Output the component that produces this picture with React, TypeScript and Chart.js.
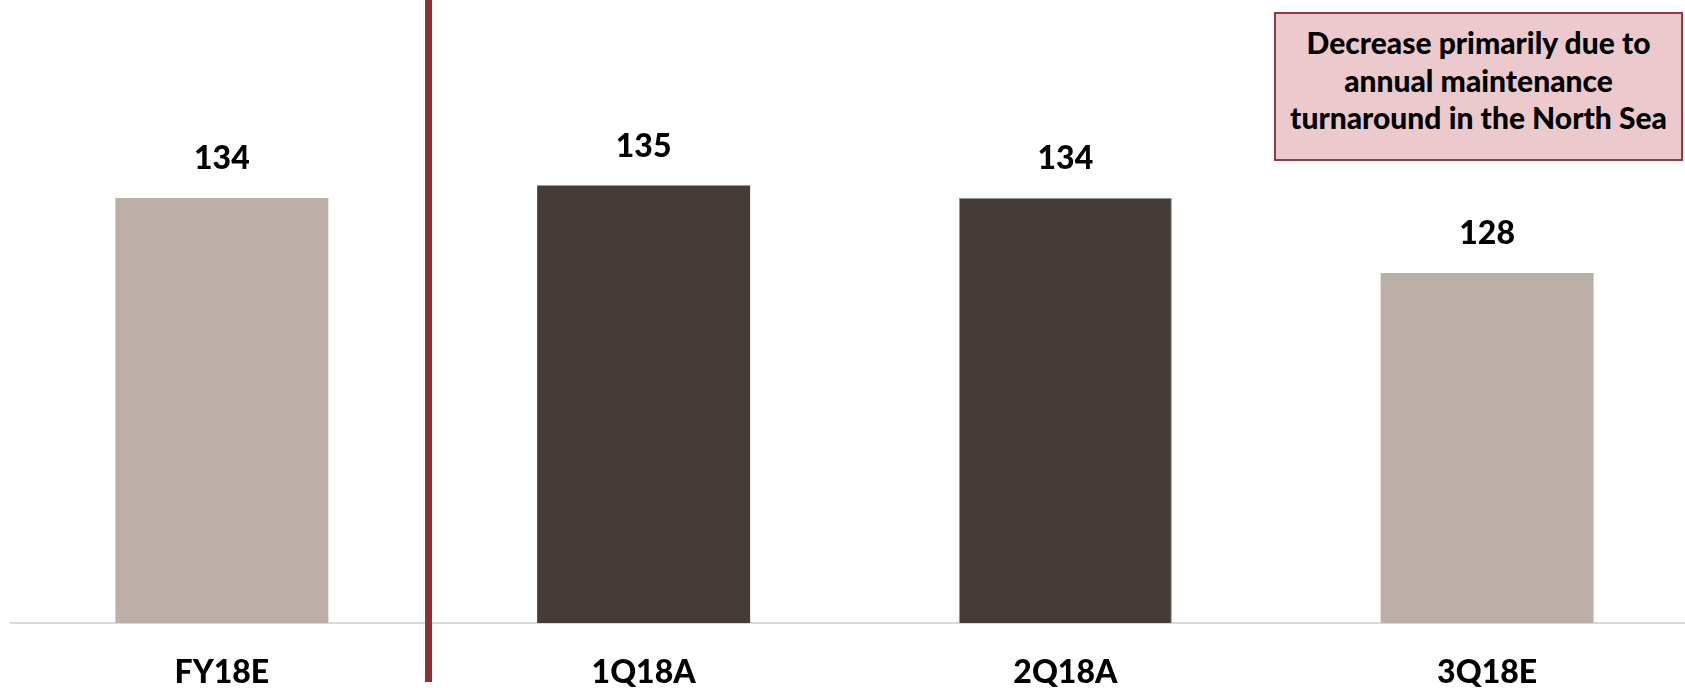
import React, { useEffect, useRef } from "react";
import { Chart, registerables } from "chart.js";

Chart.register(...registerables);

// ---- data ----
const categories = ["FY18E", "1Q18A", "2Q18A", "3Q18E"];
const values = [134, 135, 134, 128];
const valueLabels = ["134", "135", "134", "128"];
const barColors = ["#bcafa7", "#463c37", "#463c37", "#bcafa7"];
const barBorderColors = ["#bcafa7", "#463c37", "#8c9c8a", "#bcafa7"];
const barBorderWidths = [0, 0, 1, 0];
const annotationLines = [
  "Decrease primarily due to",
  "annual maintenance",
  "turnaround in the North Sea",
];
const Y_MIN = 100;
const Y_MAX = 150;
const DIVIDER_AT = 0.49; // between FY18E and 1Q18A

const FONT = "Lato, 'Open Sans', sans-serif";

export default function App() {
  const canvasRef = useRef<HTMLCanvasElement | null>(null);

  useEffect(() => {
    const canvas = canvasRef.current;
    if (!canvas) return;

    const valueLabelPlugin = {
      id: "valueLabels",
      afterDatasetsDraw(chart: any) {
        const ctx = chart.ctx;
        const meta = chart.getDatasetMeta(0);
        ctx.save();
        ctx.font = `900 32px ${FONT}`;
        ctx.fillStyle = "#000000";
        ctx.textAlign = "center";
        ctx.textBaseline = "middle";
        meta.data.forEach((bar: any, i: number) => {
          ctx.fillText(valueLabels[i], bar.x, bar.y - 39);
        });
        ctx.restore();
      },
    };

    const dividerPlugin = {
      id: "divider",
      afterDraw(chart: any) {
        const ctx = chart.ctx;
        const x = chart.scales.x.getPixelForValue(DIVIDER_AT);
        const { top, bottom } = chart.chartArea;
        ctx.save();
        ctx.strokeStyle = "#8a3137";
        ctx.lineWidth = 7;
        ctx.beginPath();
        ctx.moveTo(x, top + 2);
        ctx.lineTo(x, bottom + 59);
        ctx.stroke();
        ctx.restore();
      },
    };

    const chart = new Chart(canvas, {
      type: "bar",
      data: {
        labels: categories,
        datasets: [
          {
            data: values,
            backgroundColor: barColors,
            borderColor: barBorderColors,
            borderWidth: barBorderWidths,
            barPercentage: 0.505,
            categoryPercentage: 1,
          },
        ],
      },
      options: {
        animation: false,
        responsive: false,
        devicePixelRatio: 1,
        layout: { padding: { left: 11, right: 0, top: 0, bottom: 0 } },
        plugins: {
          legend: { display: false },
          tooltip: { enabled: false },
        },
        scales: {
          x: {
            grid: { display: false, drawTicks: false },
            border: { display: true, color: "#d9d9d9", width: 2 },
            ticks: {
              color: "#000000",
              font: { family: FONT, weight: 900, size: 32 },
              padding: 30,
              maxRotation: 0,
              autoSkip: false,
            },
            afterFit(scale: any) {
              scale.height = 65;
            },
          },
          y: {
            display: false,
            min: Y_MIN,
            max: Y_MAX,
          },
        },
      },
      plugins: [valueLabelPlugin, dividerPlugin],
    });

    return () => chart.destroy();
  }, []);

  return (
    <div
      style={{
        position: "absolute",
        left: 0,
        top: 0,
        width: 1685,
        height: 688,
        overflow: "hidden",
        background: "#ffffff",
      }}
    >
      <canvas
        ref={canvasRef}
        width={1698}
        height={690}
        style={{ position: "absolute", left: 0, top: -2, width: 1698, height: 690 }}
      />
      <div
        style={{
          position: "absolute",
          left: 1274,
          top: 12,
          width: 409,
          height: 149,
          boxSizing: "border-box",
          background: "#ecc9cd",
          border: "2px solid #913c42",
          fontFamily: FONT,
          fontWeight: 900,
          fontSize: 30,
          lineHeight: "37.5px",
          color: "#000000",
          textAlign: "center",
          paddingTop: 10,
          whiteSpace: "nowrap",
        }}
      >
        {annotationLines.map((l, i) => (
          <div key={i}>{l}</div>
        ))}
      </div>
    </div>
  );
}
